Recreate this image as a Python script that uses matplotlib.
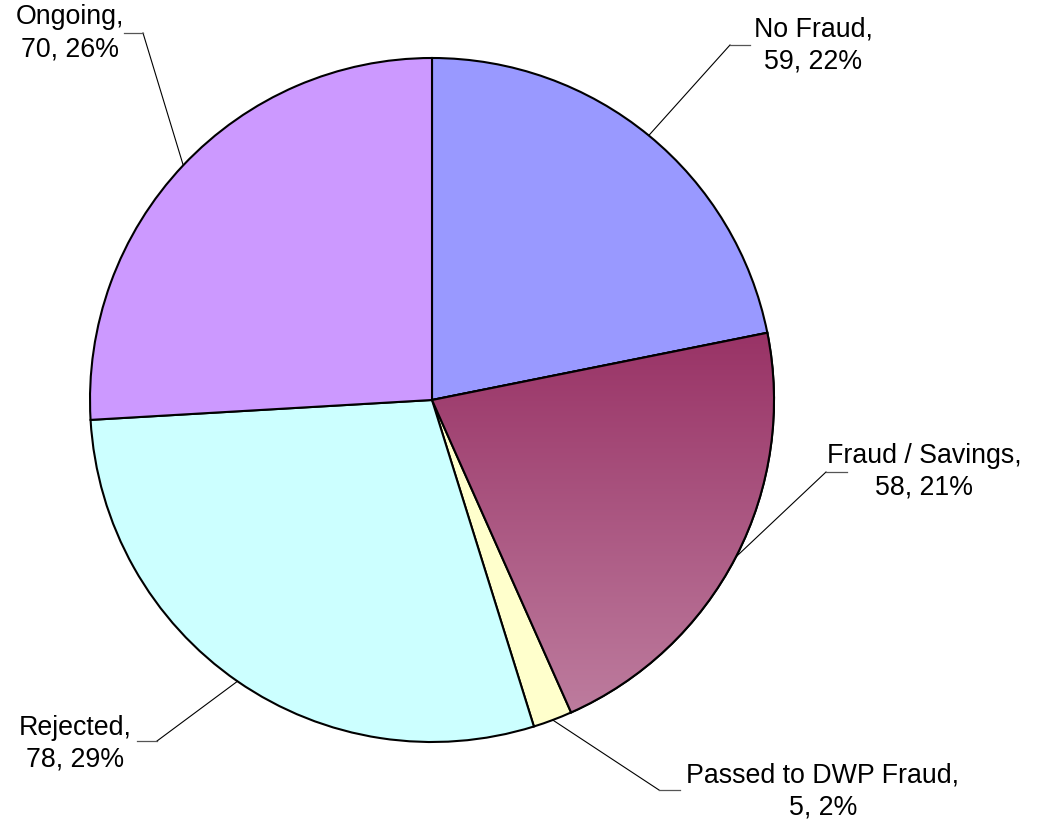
import numpy as np
import matplotlib.pyplot as plt
from matplotlib.patches import Wedge
from matplotlib.colors import LinearSegmentedColormap

plt.rcParams['font.family'] = ['Liberation Sans', 'DejaVu Sans']

# data
labels = ['No Fraud', 'Fraud / Savings', 'Passed to DWP Fraud', 'Rejected', 'Ongoing']
values = [59, 58, 5, 78, 70]
colors = ['#9999FF', '#993366', '#FFFFCC', '#CCFFFF', '#CC99FF']

# layout (pixel coords, y down)
CX, CY, R = 432, 400, 342
# elbow of each leader line, end of short horizontal tick, text centre
elbows = [(730, 45), (826, 472), (659, 790), (157, 741), (143, 33)]
tick_ends = [(750, 45), (847, 472), (680, 790), (137, 741), (124, 33)]
text_pos = [(813, 45), (924, 472), (823, 792), (75, 744), (70, 33)]

fig = plt.figure(figsize=(10.48, 8.26), dpi=100)
ax = fig.add_axes([0, 0, 1, 1])

# counterclock=True in inverted y axis -> visually clockwise
wedges, _ = ax.pie(values, colors=colors, startangle=-90, counterclock=True,
                   center=(CX, CY), radius=R, frame=True,
                   wedgeprops=dict(edgecolor='black', linewidth=1.5))
ax.set_xlim(0, 1048)
ax.set_ylim(826, 0)
ax.set_aspect('equal')
ax.axis('off')

# gradient fill for Fraud / Savings
w = wedges[1]
grad_cmap = LinearSegmentedColormap.from_list('fs', ['#993366', '#BD7C9E'])
grad = np.linspace(0, 1, 256).reshape(-1, 1)
y0, y1 = 333, 712
im = ax.imshow(grad, cmap=grad_cmap, extent=(CX, CX + R + 2, y1, y0),
               aspect='auto', zorder=w.get_zorder() + 0.1, interpolation='bilinear')
im.set_clip_path(w)
ax.add_patch(Wedge(w.center, w.r, w.theta1, w.theta2, facecolor='none',
                   edgecolor='black', linewidth=1.5, zorder=w.get_zorder() + 0.2))

total = sum(values)
for i, wd in enumerate(wedges):
    ang = np.deg2rad((wd.theta1 + wd.theta2) / 2)
    ex = CX + R * np.cos(ang)
    ey = CY + R * np.sin(ang)
    ax.plot([ex, elbows[i][0]], [ey, elbows[i][1]], color='black', lw=0.8, zorder=5)
    ax.plot([elbows[i][0], tick_ends[i][0]], [elbows[i][1], tick_ends[i][1]],
            color='#555555', lw=0.9, zorder=5)
    pct = round(values[i] / total * 100)
    ax.text(text_pos[i][0], text_pos[i][1], f'{labels[i]},\n{values[i]}, {pct}%',
            ha='center', va='center', fontsize=19.3, linespacing=1.3)

fig.savefig('out.png', dpi=100, facecolor='white')
